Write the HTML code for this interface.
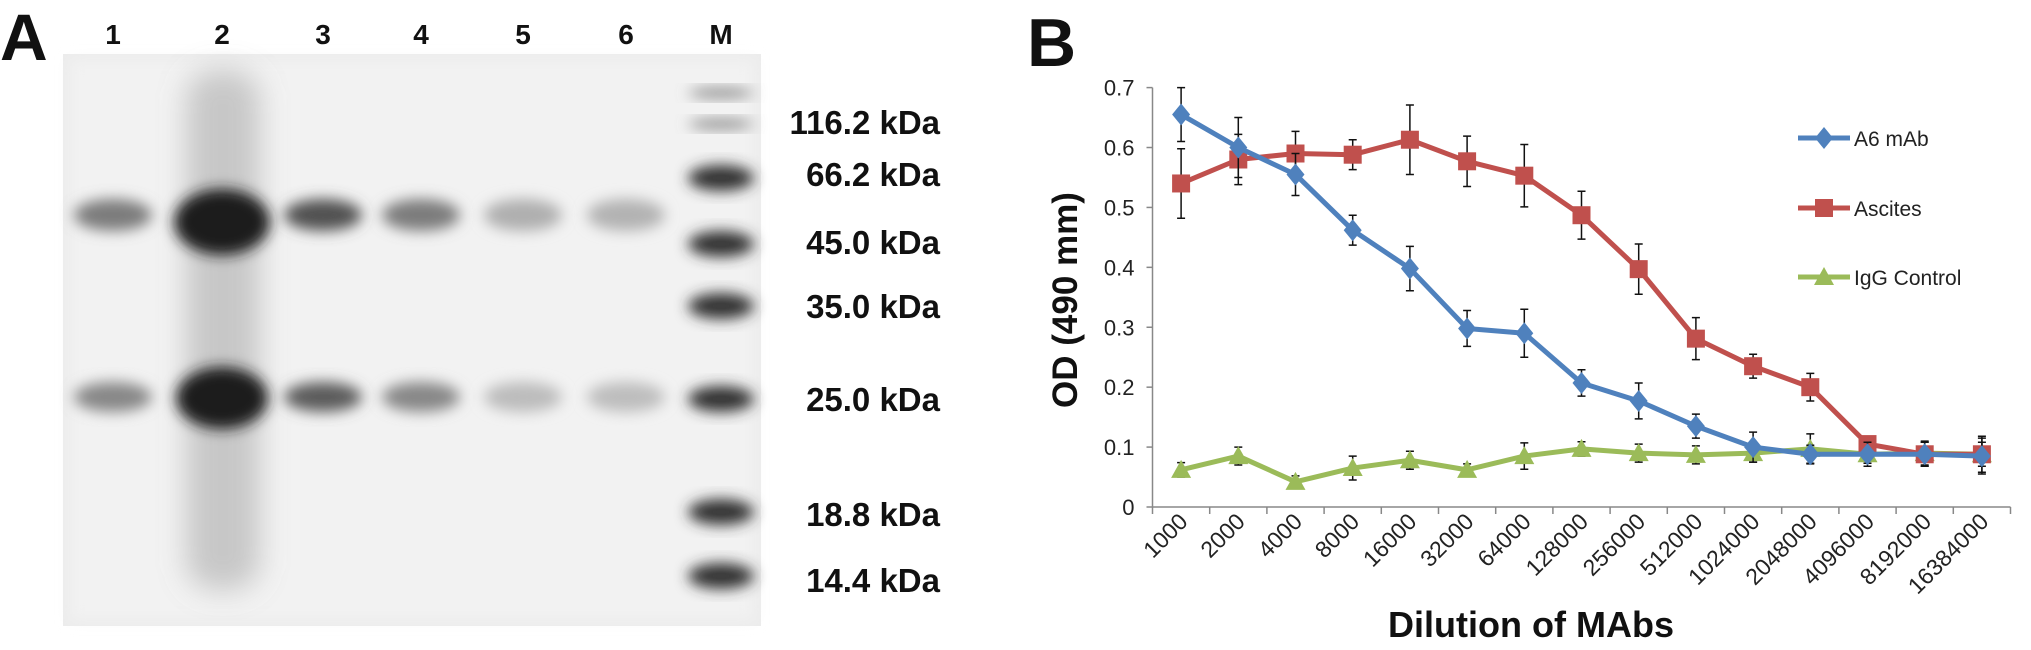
<!DOCTYPE html>
<html><head><meta charset="utf-8"><style>
html,body{margin:0;padding:0;background:#fff;}
body{width:2031px;height:645px;overflow:hidden;font-family:"Liberation Sans",sans-serif;}
</style></head><body>
<svg id="fig" width="2031" height="645" viewBox="0 0 2031 645" xmlns="http://www.w3.org/2000/svg">
<defs>
<filter id="bl" x="-50%" y="-50%" width="200%" height="200%"><feGaussianBlur stdDeviation="7"/></filter>
<filter id="bl2" x="-50%" y="-50%" width="200%" height="200%"><feGaussianBlur stdDeviation="14"/></filter>
</defs>
<g id="panelA">
<text x="0" y="60" font-size="66" font-weight="bold" fill="#111">A</text>
<rect x="63" y="54" width="698" height="572" fill="#ececec"/>
<rect x="70" y="60" width="684" height="560" fill="#f2f2f2" filter="url(#bl)"/>
<g id="gel"></g>
</g>
<g id="panelB">
<text x="1027" y="66" font-size="68" font-weight="bold" fill="#111">B</text>
<g id="chart"></g>
</g>
</svg>
<script>
const NS="http://www.w3.org/2000/svg";
function mk(tag,attrs,parent){const e=document.createElementNS(NS,tag);for(const k in attrs)e.setAttribute(k,attrs[k]);parent.appendChild(e);return e;}

// ---------- Gel (panel A) ----------
const laneNames=["1","2","3","4","5","6","M"];
const laneX=[113,222,323,421,523,626,721];
const upperIntensity=[0.45,1.0,0.7,0.45,0.15,0.13];
const lowerIntensity=[0.4,1.0,0.65,0.4,0.1,0.09];
const markerLabels=["116.2 kDa","66.2 kDa","45.0 kDa","35.0 kDa","25.0 kDa","18.8 kDa","14.4 kDa"];
const markerY=[124,178,244,306,399,512,576];
const markerLabelY=[122,174,242,306,399,514,580];
const gel=document.getElementById('gel');
laneNames.forEach((n,i)=>{
  const t=mk('text',{x:laneX[i],y:44,'font-size':28,'font-weight':'bold','text-anchor':'middle',fill:'#111'},gel);
  t.textContent=n;
  
  
});
const sm=mk('rect',{x:186,y:70,width:74,height:520,rx:30,fill:'#888','fill-opacity':0.4,filter:'url(#bl2)'},gel);


upperIntensity.forEach((v,i)=>{
  const w=i===1?96:78,h=i===1?66:32;
  const g=Math.round(200-170*v);
  const e=mk('ellipse',{cx:laneX[i],cy:i===1?222:215,rx:w/2,ry:h/2,fill:`rgb(${g},${g},${g})`,filter:'url(#bl)'},gel);
  
  
});
lowerIntensity.forEach((v,i)=>{
  const w=i===1?92:78,h=i===1?62:30;
  const g=Math.round(205-175*v);
  const e=mk('ellipse',{cx:laneX[i],cy:i===1?398:397,rx:w/2,ry:h/2,fill:`rgb(${g},${g},${g})`,filter:'url(#bl)'},gel);
  
  
});
[93].concat(markerY).forEach((y,i)=>{
  const faint=i<2;
  const e=mk('ellipse',{cx:721,cy:y,rx:33,ry:faint?5:13,fill:faint?'#888':'#333',filter:'url(#bl)'},gel);
  
  
});
markerLabels.forEach((l,i)=>{
  const t=mk('text',{x:940,y:markerLabelY[i]+12,'font-size':33,'font-weight':'bold','text-anchor':'end',fill:'#111'},gel);
  t.textContent=l;
  
  
});

// ---------- Chart (panel B) ----------
const categories=["1000","2000","4000","8000","16000","32000","64000","128000","256000","512000","1024000","2048000","4096000","8192000","16384000"];
const yTicks=[0,0.1,0.2,0.3,0.4,0.5,0.6,0.7];
const yTickLabels=["0","0.1","0.2","0.3","0.4","0.5","0.6","0.7"];
const seriesNames=["A6 mAb","Ascites","IgG Control"];
const a6Values=[0.655,0.60,0.555,0.462,0.398,0.298,0.29,0.207,0.177,0.135,0.10,0.088,0.088,0.088,0.085];
const a6Errors=[0.045,0.05,0.035,0.025,0.037,0.03,0.04,0.022,0.03,0.02,0.025,0.015,0.02,0.02,0.03];
const ascitesValues=[0.54,0.58,0.59,0.588,0.613,0.577,0.553,0.487,0.397,0.281,0.235,0.20,0.105,0.088,0.088];
const ascitesErrors=[0.058,0.042,0.037,0.025,0.058,0.042,0.052,0.04,0.042,0.035,0.02,0.023,0.01,0.02,0.03];
const iggValues=[0.062,0.085,0.042,0.065,0.078,0.062,0.085,0.097,0.09,0.087,0.09,0.097,0.088,0.09,0.088];
const iggErrors=[0.012,0.015,0.01,0.02,0.015,0.01,0.022,0.012,0.015,0.015,0.015,0.025,0.015,0.02,0.02];

const ch=document.getElementById('chart');
const X0=1152.5,X1=2010.5,Y0=507,Y1=87.6,YMAX=0.7;
const band=(X1-X0)/categories.length;
const xPos=i=>X0+band*(i+0.5);
const yPos=v=>Y0-(v/YMAX)*(Y0-Y1);

const ya=mk('line',{x1:X0,y1:Y1,x2:X0,y2:Y0,stroke:'#888','stroke-width':1.5},ch);


const xa=mk('line',{x1:X0,y1:Y0,x2:X1,y2:Y0,stroke:'#888','stroke-width':1.5},ch);


yTicks.forEach((v,i)=>{
  mk('line',{x1:X0-6,y1:yPos(v),x2:X0,y2:yPos(v),stroke:'#888','stroke-width':1.5},ch);
  const t=mk('text',{x:X0-18,y:yPos(v)+8,'font-size':22,'text-anchor':'end',fill:'#222'},ch);
  t.textContent=yTickLabels[i];
  
  
});
for(let i=0;i<=categories.length;i++){
  mk('line',{x1:X0+band*i,y1:Y0,x2:X0+band*i,y2:Y0+7,stroke:'#888','stroke-width':1.5},ch);
}
categories.forEach((c,i)=>{
  const x=xPos(i)+8,y=Y0+16;
  const t=mk('text',{x:x,y:y,'font-size':23,'text-anchor':'end',fill:'#222',transform:`rotate(-45 ${x} ${y})`},ch);
  t.textContent=c;
  
  
});
const yt=mk('text',{x:1077,y:300,'font-size':35,'font-weight':'bold','text-anchor':'middle',fill:'#111',transform:'rotate(-90 1077 300)'},ch);
yt.textContent="OD (490 mm)";


const xt=mk('text',{x:1531,y:637,'font-size':36,'font-weight':'bold','text-anchor':'middle',fill:'#111'},ch);
xt.textContent="Dilution of MAbs";



const colors=["#4F81BD","#C0504D","#9BBB59"];
function marker(type,x,y,col,parent){
  if(type===0) return mk('polygon',{points:`${x},${y-11} ${x+9},${y} ${x},${y+11} ${x-9},${y}`,fill:col},parent);
  if(type===1) return mk('rect',{x:x-9,y:y-9,width:18,height:18,fill:col},parent);
  return mk('polygon',{points:`${x},${y-10} ${x+10},${y+8} ${x-10},${y+8}`,fill:col},parent);
}
[[iggValues,iggErrors,2],[ascitesValues,ascitesErrors,1],[a6Values,a6Errors,0]].forEach(([vals,errs,k])=>{
  const g=mk('g',{},ch);
  
  
  vals.forEach((v,i)=>{
    const x=xPos(i),e=errs[i];
    const eb=mk('path',{d:`M${x},${yPos(v-e)}V${yPos(v+e)}M${x-4},${yPos(v-e)}H${x+4}M${x-4},${yPos(v+e)}H${x+4}`,stroke:'#111','stroke-width':1.5,fill:'none'},g);
    
    
  });
  const ln=mk('polyline',{points:vals.map((v,i)=>xPos(i)+','+yPos(v)).join(' '),fill:'none',stroke:colors[k],'stroke-width':5,'stroke-linejoin':'round'},g);
  
  
  vals.forEach((v,i)=>{
    const m=marker(k,xPos(i),yPos(v),colors[k],g);
    
    
  });
});
const legendY=[138,208,277];
seriesNames.forEach((n,k)=>{
  const g=mk('g',{},ch);
  
  
  mk('line',{x1:1798,y1:legendY[k],x2:1850,y2:legendY[k],stroke:colors[k],'stroke-width':5},g);
  marker(k,1824,legendY[k],colors[k],g);
  const t=mk('text',{x:1854,y:legendY[k]+8,'font-size':21,fill:'#222'},g);
  t.textContent=n;
});
</script>
</body></html>
